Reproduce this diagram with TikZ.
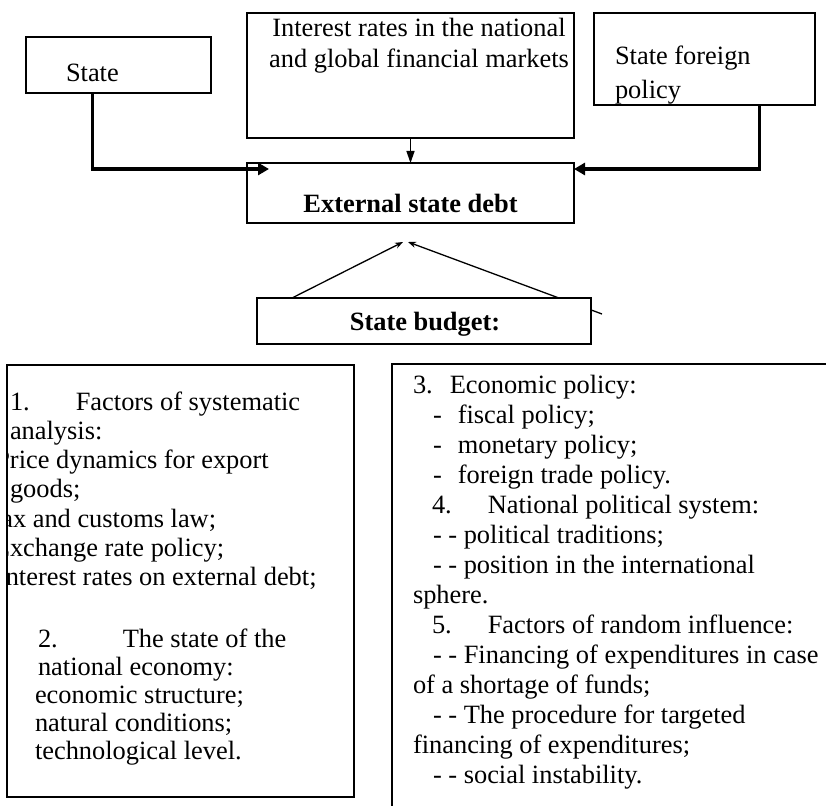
\documentclass[tikz,border=0pt]{standalone}
\usepackage{fontspec}
\setmainfont{Liberation Serif}
\usetikzlibrary{arrows.meta}
\pgfdeclarelayer{background}
\pgfsetlayers{background,main}

% rows of text whose baseline is the baseline of the first row
\newcommand\txtrows[2][l]{\begin{tabular}[t]{@{}#1@{}}#2\end{tabular}}

\tikzset{
  frame/.style={draw, line width=1.8pt, fill=white, inner sep=0pt,
                outer sep=0pt, anchor=north west},
  words/.style={inner sep=0pt, outer sep=0pt, anchor=base west},
  heavy/.style={line width=3pt, -{Triangle[length=11pt,width=12pt]}},
  light/.style={line width=1.3pt, -{Triangle[length=12pt,width=8pt]}},
  slim/.style={line width=1.3pt, -{Stealth[length=8pt,width=6pt]}},
}

\begin{document}
\begin{tikzpicture}[x=1pt, y=-1pt, font=\fontsize{26.4}{30}\selectfont]
\clip (0,0) rectangle (826,805);

% upper row of factors
\node[frame, minimum width=185pt, minimum height=56pt] (state) at (26,37) {};
\node[words] (stateTxt) at (66,82) {State};

\node[frame, minimum width=327pt, minimum height=125pt] (rates) at (247,13) {};
\node[words, anchor=base, font=\fontsize{26.4}{31}\selectfont] (ratesTxt) at (419,37)
  {\txtrows[c]{Interest rates in the national\\and global financial markets}};

\node[frame, minimum width=221pt, minimum height=92pt] (foreign) at (594,13) {};
\node[words, font=\fontsize{26.4}{34}\selectfont] (foreignTxt) at (615,65)
  {\txtrows{State foreign\\policy}};

% the debt itself
\node[frame, minimum width=327pt, minimum height=60pt] (debt) at (247,163) {};
\node[words, anchor=base, font=\bfseries\fontsize{26.4}{30}\selectfont] (debtTxt) at (410.5,212)
  {External state debt};

% budget
\node[frame, minimum width=334pt, minimum height=46pt] (budget) at (257,298) {};
\node[words, anchor=base, font=\bfseries\fontsize{26.4}{30}\selectfont] (budgetTxt) at (425,330)
  {State budget:};

\begin{pgfonlayer}{background}
  \draw[slim] ([xshift=35pt]budget.north west) -- ([xshift=-7.5pt,yshift=-19pt]debt.south);
  \draw[slim] ([xshift=11pt,yshift=-16pt]budget.north east) -- ([xshift=-2.5pt,yshift=-19pt]debt.south);
\end{pgfonlayer}

% connectors into the debt box
\draw[heavy] ([xshift=66pt]state.south west) |- ([xshift=22pt,yshift=-6pt]debt.north west);
\draw[heavy] ([xshift=165pt]foreign.south west) |- ([yshift=-6pt]debt.north east);
\draw[light] (rates.south) -- (debt.north);

% lower left box: factors 1 and 2
\node[frame, minimum width=347pt, minimum height=432pt] (leftbox) at (7,365) {};
\begin{scope}
  \clip (leftbox.north west) rectangle (leftbox.south east);
  \node[words, font=\fontsize{26.4}{29.3}\selectfont] (factorsA) at (10,410)
    {\txtrows{1.\hspace{46pt}Factors of systematic\\
      analysis:\\
      \hspace*{-14.7pt}Price dynamics for export\\
      goods;\\
      \hspace*{-23pt}Tax and customs law;\\
      \hspace*{-16.1pt}Exchange rate policy;\\
      \hspace*{-13pt}Interest rates on external debt;}};
  \node[words, font=\fontsize{26.4}{28}\selectfont] (factorsB) at (38,647)
    {\txtrows{2.\hspace{65pt}The state of the\\
      national economy:\\
      \hspace*{-3pt}economic structure;\\
      \hspace*{-3pt}natural conditions;\\
      \hspace*{-3pt}technological level.}};
\end{scope}

% lower right box: factors 3 to 5
\node[frame, minimum width=460pt, minimum height=460pt] (rightbox) at (392,364) {};
\node[words, font=\fontsize{26.4}{30}\selectfont] (factorsC) at (413,393)
  {\txtrows{3.\hspace{17pt}Economic policy:\\
    \hspace*{20pt}-\hspace{16pt}fiscal policy;\\
    \hspace*{20pt}-\hspace{16pt}monetary policy;\\
    \hspace*{20pt}-\hspace{16pt}foreign trade policy.\\
    \hspace*{19pt}4.\hspace{36pt}National political system:\\
    \hspace*{20pt}- - political traditions;\\
    \hspace*{20pt}- - position in the international\\
    sphere.\\
    \hspace*{19pt}5.\hspace{36pt}Factors of random influence:\\
    \hspace*{20pt}- - Financing of expenditures in case\\
    of a shortage of funds;\\
    \hspace*{20pt}- - The procedure for targeted\\
    financing of expenditures;\\
    \hspace*{20pt}- - social instability.}};
\end{tikzpicture}
\end{document}
